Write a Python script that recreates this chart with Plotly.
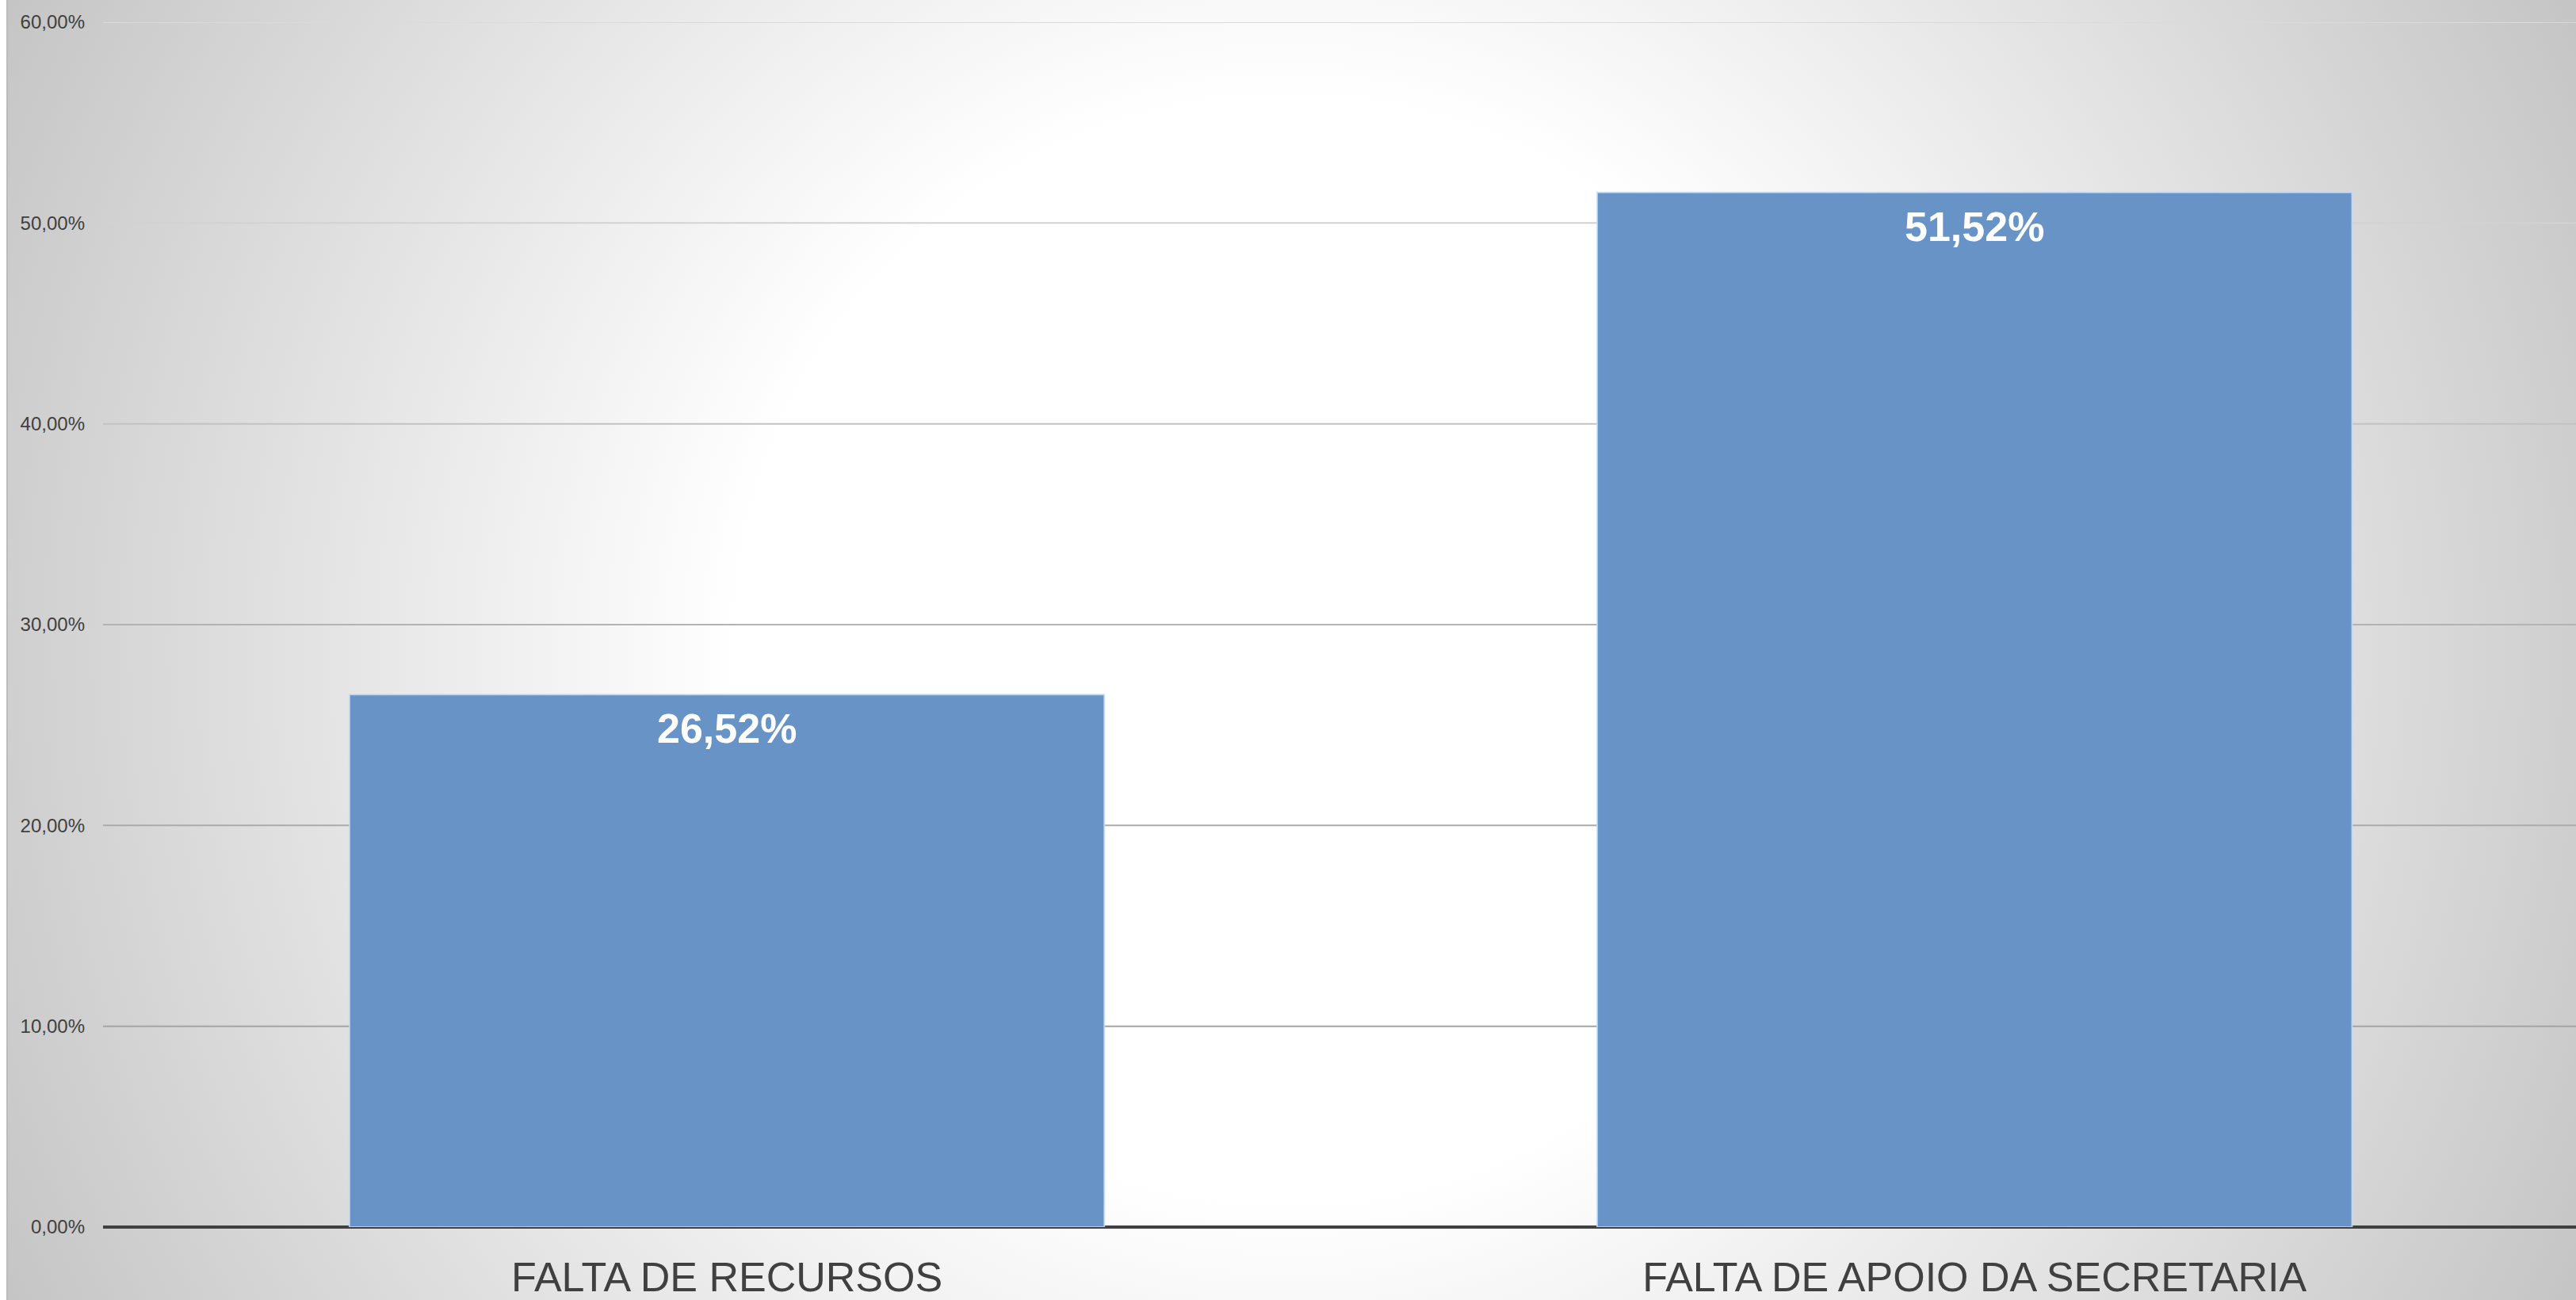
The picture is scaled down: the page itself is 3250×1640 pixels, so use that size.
import base64
import plotly.graph_objects as go

categories = ["FALTA DE RECURSOS", "FALTA DE APOIO DA SECRETARIA"]
values = [26.52, 51.52]
value_labels = ["26,52%", "51,52%"]
tick_vals = [0, 10, 20, 30, 40, 50, 60]
tick_text = ["0,00%", "10,00%", "20,00%", "30,00%", "40,00%", "50,00%", "60,00%"]
grid_vals = [10, 20, 30, 40, 50, 60]
grid_colors = ["#a4a4a4", "#ababab", "#b3b3b3", "#c2c2c2", "#d2d2d2", "#dadada"]

W, H = 3250, 1640
ML, MR, MT, MB = 130, 0, 28, 92
PW, PH = W - ML - MR, H - MT - MB

FONT = "Liberation Sans, Arial, sans-serif"

svg = f'''<svg xmlns="http://www.w3.org/2000/svg" width="{W}" height="{H}" viewBox="0 0 {W} {H}">
<defs><radialGradient id="g" gradientUnits="userSpaceOnUse" cx="1625" cy="820" r="1830">
<stop offset="0" stop-color="#ffffff"/><stop offset="0.38" stop-color="#ffffff"/>
<stop offset="1" stop-color="#c4c4c4"/></radialGradient></defs>
<rect x="0" y="0" width="{W}" height="{H}" fill="url(#g)"/>
<rect x="0" y="0" width="8" height="{H}" fill="#ffffff"/>
<rect x="8" y="0" width="2" height="{H}" fill="#bcbcbc"/>
</svg>'''
bg_uri = "data:image/svg+xml;base64," + base64.b64encode(svg.encode()).decode()

fig = go.Figure()
fig.add_trace(go.Bar(
    x=categories, y=values, width=0.605,
    marker=dict(color="#6793c6", line=dict(color="rgba(200,220,245,0.8)", width=2)),
    hoverinfo="skip", showlegend=False,
))

for c, v, t in zip(categories, values, value_labels):
    fig.add_annotation(x=c, y=v, text=t, showarrow=False, yanchor="top", yshift=-12,
                       font=dict(family=FONT, size=52, color="white", weight="bold"))

for gv, gc in zip(grid_vals, grid_colors):
    fig.add_shape(type="line", xref="paper", yref="y", x0=0, x1=1, y0=gv, y1=gv,
                  line=dict(color=gc, width=2), layer="below")

fig.add_layout_image(dict(source=bg_uri, xref="paper", yref="paper",
                          x=-ML / PW, y=1 + MT / PH, sizex=W / PW, sizey=H / PH,
                          xanchor="left", yanchor="top", sizing="stretch", layer="below"))

fig.update_layout(
    width=W, height=H,
    margin=dict(l=ML, r=MR, t=MT, b=MB, pad=0),
    paper_bgcolor="rgba(0,0,0,0)", plot_bgcolor="rgba(0,0,0,0)",
    bargap=0.395,
    xaxis=dict(type="category", range=[-0.5, 1.482], showgrid=False, zeroline=False,
               showline=False, ticks="", ticklabelstandoff=28,
               tickfont=dict(family=FONT, size=52, color="#404040")),
    yaxis=dict(range=[0, 60], tickvals=tick_vals, ticktext=tick_text,
               showgrid=False,
               zeroline=True, zerolinecolor="#404040", zerolinewidth=4,
               showline=False, ticks="", ticklabelstandoff=22,
               tickfont=dict(family=FONT, size=24, color="#404040")),
)

fig.write_html("out.html", config={"displayModeBar": False},
               post_script="document.body.style.margin='0';")
